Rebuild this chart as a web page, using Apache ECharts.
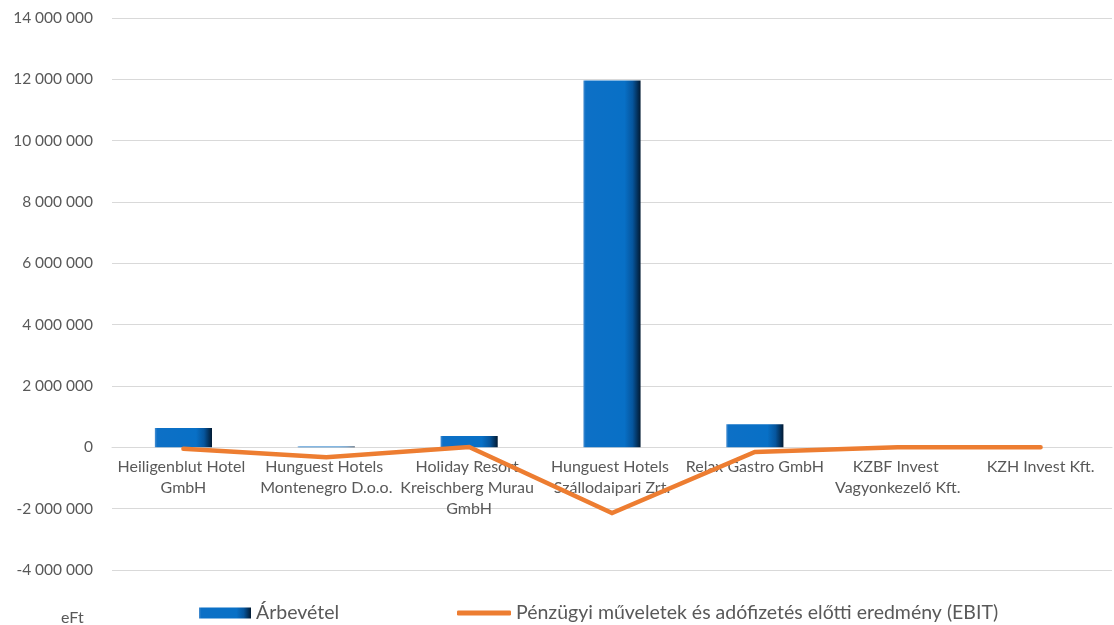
<!DOCTYPE html>
<html>
<head>
<meta charset="utf-8">
<script src="https://cdn.jsdelivr.net/npm/echarts@6/dist/echarts.min.js"></script>
<style>
html,body{margin:0;padding:0;background:#fff;}
#chart{width:1114px;height:625px;}
</style>
</head>
<body>
<div id="chart"></div>
<script>
const categories = [
  "Heiligenblut Hotel GmbH",
  "Hunguest Hotels Montenegro D.o.o.",
  "Holiday Resort Kreischberg Murau GmbH",
  "Hunguest Hotels Szállodaipari Zrt.",
  "Relax Gastro GmbH",
  "KZBF Invest Vagyonkezelő Kft.",
  "KZH Invest Kft."
];
const revenueName = "Árbevétel";
const revenue = [630000, 25000, 370000, 11960000, 750000, 0, 0];
const ebitName = "Pénzügyi műveletek és adófizetés előtti eredmény (EBIT)";
const ebit = [-50000, -320000, 10000, -2140000, -150000, 0, 0];
const unitLabel = "eFt";
const yMin = -4000000, yMax = 14000000, yStep = 2000000;

const font = "Lato, 'Open Sans', sans-serif";
const fmt = v => String(Math.round(v)).replace(/\B(?=(\d{3})+(?!\d))/g, " ");

const gridTop = 18, gridBottom = 55, H = 625;
// pixel distance from grid bottom (yMin) up to value 0
const zeroOffset = -((0 - yMin) / (yMax - yMin)) * (H - gridTop - gridBottom);

const barGradient = new echarts.graphic.LinearGradient(0, 0, 1, 0, [
  { offset: 0, color: '#4a8fd0' },
  { offset: 0.04, color: '#0d70c6' },
  { offset: 0.72, color: '#0870c6' },
  { offset: 0.86, color: '#06569e' },
  { offset: 1, color: '#021a32' }
]);

const chart = echarts.init(document.getElementById('chart'));
chart.setOption({
  animation: false,
  backgroundColor: '#fff',
  textStyle: { fontFamily: font },
  grid: { left: 112, right: 2, top: gridTop, bottom: gridBottom, containLabel: false, outerBoundsMode: 'none' },
  legend: [
    { data: [{ name: revenueName, icon: 'rect' }], left: 194, bottom: -3, itemWidth: 52, itemHeight: 11, itemGap: 6,
      textStyle: { fontFamily: font, fontSize: 19.5, color: '#595959' } },
    { data: [{ name: ebitName, icon: 'roundRect' }], left: 452, bottom: -3, itemWidth: 54, itemHeight: 5,
      textStyle: { fontFamily: font, fontSize: 19.5, color: '#595959' } }
  ],
  graphic: [
    { type: 'text', left: 61, top: 610, style: { text: unitLabel, font: '16px ' + font, fill: '#595959' } }
  ],
  xAxis: {
    type: 'category',
    data: categories,
    offset: zeroOffset,
    axisLine: { onZero: false, lineStyle: { color: '#d9d9d9', width: 1 } },
    axisTick: { show: false },
    axisLabel: {
      interval: 0, margin: 9, color: '#595959', fontSize: 16, fontFamily: font,
      width: 140, overflow: 'break', lineHeight: 21, align: 'center'
    }
  },
  yAxis: {
    type: 'value', min: yMin, max: yMax, interval: yStep,
    axisLine: { show: false }, axisTick: { show: false },
    splitLine: { lineStyle: { color: '#d9d9d9', width: 1 } },
    axisLabel: { color: '#595959', fontSize: 15.5, fontFamily: font, margin: 19, formatter: fmt }
  },
  series: [
    {
      name: revenueName, type: 'bar', data: revenue, barWidth: '40%',
      itemStyle: { color: barGradient }
    },
    {
      name: ebitName, type: 'line', data: ebit, showSymbol: false, symbol: 'none',
      lineStyle: { color: '#ED7D31', width: 4.5, cap: 'round', join: 'miter' },
      itemStyle: { color: '#ED7D31' }, z: 3
    }
  ]
});
</script>
</body>
</html>
